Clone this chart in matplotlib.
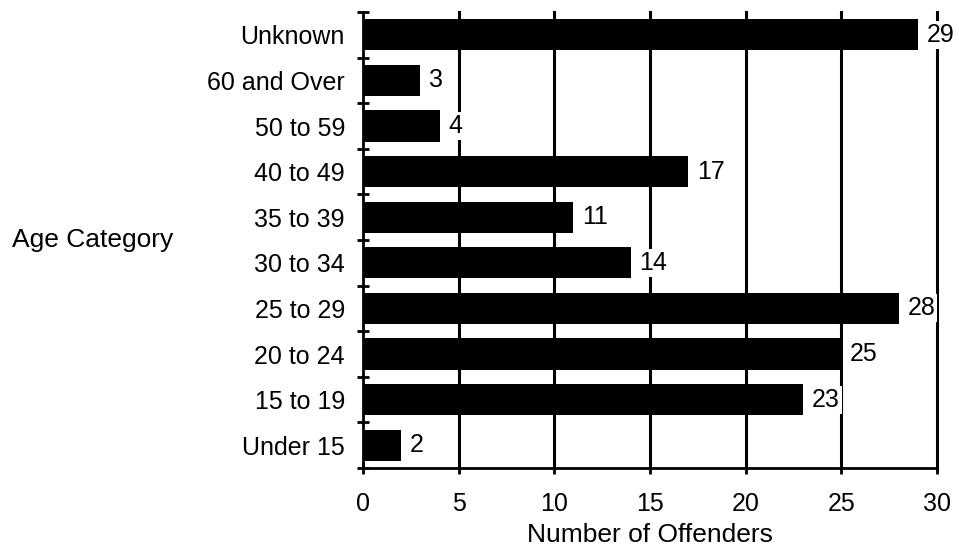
import matplotlib
matplotlib.use("Agg")
import matplotlib.pyplot as plt
import numpy as np

# data, bottom to top as drawn
categories = ["Under 15", "15 to 19", "20 to 24", "25 to 29", "30 to 34",
              "35 to 39", "40 to 49", "50 to 59", "60 and Over", "Unknown"]
offenders = [2, 23, 25, 28, 14, 11, 17, 4, 3, 29]
x_ticks = [0, 5, 10, 15, 20, 25, 30]

plt.rcParams['font.family'] = ['Liberation Sans', 'DejaVu Sans']

fig = plt.figure(figsize=(9.59, 5.49), dpi=100)
ax = fig.add_axes([363 / 959, 1 - 468 / 549, (937 - 363) / 959, (468 - 12) / 549])

y = np.arange(len(categories))

# vertical grid lines behind the bars
for xv in x_ticks[1:]:
    ax.axvline(xv, color='black', lw=2.2, zorder=1, clip_on=False)

ax.barh(y, offenders, height=0.68, color='black', zorder=2)

for yi, v in zip(y, offenders):
    ax.text(v + 0.45, yi, str(v), va='center', ha='left', fontsize=18, zorder=3,
            bbox=dict(facecolor='white', edgecolor='none', pad=1.5))

ax.set_xlim(0, 30)
ax.set_ylim(-0.5, len(categories) - 0.5)

ax.set_yticks(y)
ax.set_yticklabels(categories, fontsize=18)
ax.set_yticks(np.arange(-0.5, len(categories), 1.0), minor=True)
ax.tick_params(axis='y', which='major', length=0, pad=13)
ax.tick_params(axis='y', which='minor', length=9, width=2, direction='inout')

ax.set_xticks(x_ticks)
ax.set_xticklabels([str(t) for t in x_ticks], fontsize=18)
ax.tick_params(axis='x', length=9, width=2, direction='inout', pad=13)
ax.set_xlabel("Number of Offenders", fontsize=19, labelpad=5)

for side in ['top', 'right']:
    ax.spines[side].set_visible(False)
ax.spines['left'].set_linewidth(2)
ax.spines['bottom'].set_linewidth(2)

fig.text(12 / 959, 1 - 240 / 549, "Age Category", fontsize=19, va='center', ha='left')

fig.savefig("out.png", dpi=100)
